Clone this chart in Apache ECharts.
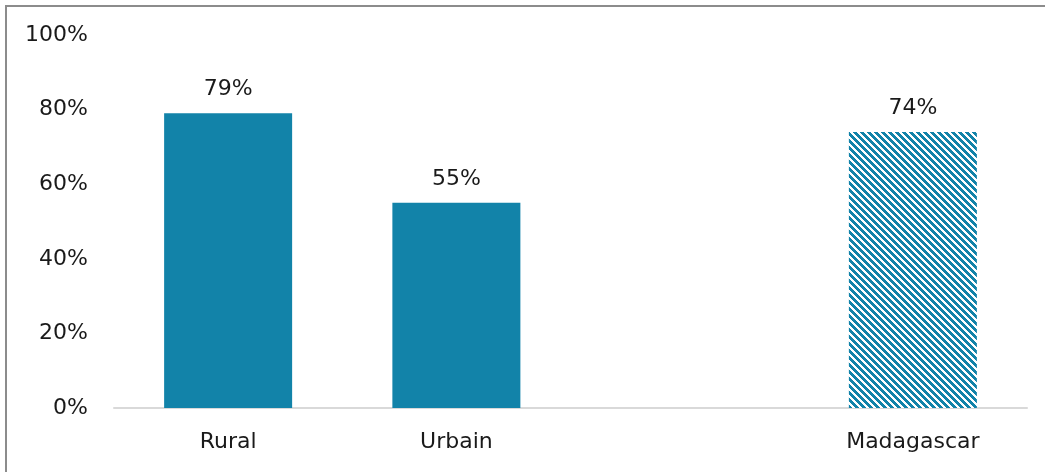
<!DOCTYPE html>
<html><head><meta charset="utf-8">
<script src="https://cdn.jsdelivr.net/npm/echarts@6/dist/echarts.min.js"></script>
<style>html,body{margin:0;padding:0;background:#fff;overflow:hidden;width:1045px;height:472px}#frame{position:absolute;left:5px;top:5px;width:1040px;height:467px;border-left:2px solid #8c8c8c;border-top:2px solid #8c8c8c;box-sizing:border-box}#c{position:absolute;left:0;top:0;width:1045px;height:472px}</style>
</head><body><div id="frame"></div><div id="c"></div>
<script>
const categories = ['Rural', 'Urbain', '', 'Madagascar'];
const values = [79, 55, null, 74];
const patterned = [false, false, false, true];
const yTicks = [0, 20, 40, 60, 80, 100];

const P = 7;
const cv = document.createElement('canvas');
cv.width = P; cv.height = P;
const ctx = cv.getContext('2d');
const img = ctx.createImageData(P, P);
for (let y = 0; y < P; y++) for (let x = 0; x < P; x++) {
  const i = (y * P + x) * 4;
  const on = (((x - y) % P) + P) % P < 4;
  img.data[i] = on ? 0x12 : 255; img.data[i+1] = on ? 0x83 : 255; img.data[i+2] = on ? 0xA9 : 255; img.data[i+3] = 255;
}
ctx.putImageData(img, 0, 0);

const blue = '#1283A9';
const font = 'DejaVu Sans';
const txt = '#1a1a1a';
const chart = echarts.init(document.getElementById('c'), null, {renderer: 'canvas'});
chart.setOption({
  animation: false,
  grid: {left: 114, right: 18, top: 35, bottom: 64},
  xAxis: {
    type: 'category', data: categories,
    axisLine: {lineStyle: {color: '#d9d9d9', width: 2}},
    axisTick: {show: false},
    axisLabel: {color: txt, fontSize: 22, fontFamily: font, margin: 23}
  },
  yAxis: {
    type: 'value', min: yTicks[0], max: yTicks[yTicks.length - 1], interval: 20,
    axisLine: {show: false}, axisTick: {show: false}, splitLine: {show: false},
    axisLabel: {color: txt, fontSize: 22, fontFamily: font, margin: 26, formatter: '{value}%'}
  },
  series: [{
    type: 'bar', barWidth: 128,
    data: values.map((v, i) => v == null ? '-' : {
      value: v,
      itemStyle: {color: patterned[i] ? {image: cv, repeat: 'repeat'} : blue}
    }),
    label: {show: true, position: 'top', distance: 13, color: txt, fontSize: 22, fontFamily: font, formatter: '{c}%'}
  }]
});
</script></body></html>
